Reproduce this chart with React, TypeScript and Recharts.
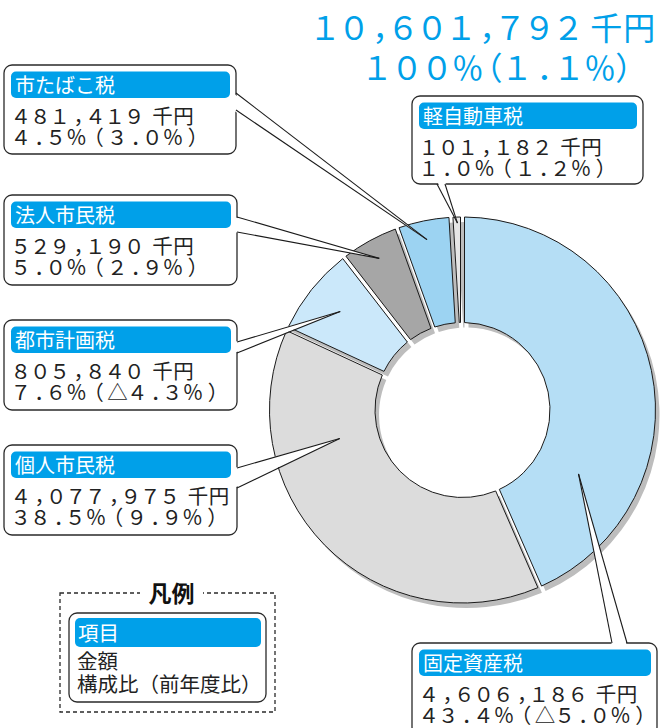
import React from 'react';
import { PieChart, Pie } from 'recharts';

// ---- data ----
const categories = ['固定資産税', '個人市民税', '都市計画税', '法人市民税', '市たばこ税', '軽自動車税'];
const amounts = [4606186, 4077975, 805840, 529190, 481419, 101182]; // 千円
const shares = [43.4, 38.5, 7.6, 5.0, 4.5, 1.0]; // %
const yoyChanges = [-5.0, 9.9, -4.3, 2.9, 3.0, 1.2]; // % (前年度比)
const totalAmount = 10601792;
const totalShare = 100;
const totalYoy = 1.1;
const legendTitle = '凡例';
const legendItems = ['項目', '金額', '構成比（前年度比）'];

// ---- styles / layout ----
const colors = ['#b5def5', '#dcdcdc', '#cbe8fa', '#a6a6a6', '#9cd3f2', '#e6e6e6'];
const SHADOW = '#bdbdbd';
const CYAN = '#00a0e9';
const FONT = '"Noto Sans CJK JP", "Noto Sans", sans-serif';
const GAP = 2;
const SHADOW_DX = 4;
const SHADOW_DY = 5;

type Side = 'top' | 'right' | 'bottom';
const calloutLayout: { x: number; y: number; w: number; h: number; b1: number[]; b2: number[]; side: Side; frac: number; r: number }[] = [
  { x: 412, y: 643, w: 245, h: 92, b1: [612, 643], b2: [627, 643], side: 'top', frac: 0.76, r: 132.5 },
  { x: 4, y: 445, w: 233, h: 90, b1: [237, 468], b2: [237, 488], side: 'right', frac: 0.726, r: 126 },
  { x: 4, y: 320, w: 233, h: 90, b1: [237, 342], b2: [237, 353], side: 'right', frac: 0.51, r: 157 },
  { x: 4, y: 195, w: 233, h: 90, b1: [237, 217], b2: [237, 232], side: 'right', frac: 0.5, r: 173 },
  { x: 4, y: 65, w: 232, h: 89, b1: [236, 93], b2: [236, 110], side: 'right', frac: 0.49, r: 174 },
  { x: 412, y: 96, w: 231, h: 88, b1: [437, 184], b2: [445, 184], side: 'bottom', frac: 0.55, r: 187 },
];

type Slots = { D: number; C: number; P: number; PCT: number; PAR: number; TRI: number; K: number; GAP: number };
const bodySlots: Slots = { D: 19.5, C: 16, P: 15.5, PCT: 22, PAR: 20, TRI: 20, K: 21, GAP: 8 };
const BODY_FS = 20.5;
const title1Slots: Slots = { D: 29, C: 20, P: 22, PCT: 31.5, PAR: 18.5, TRI: 30, K: 33, GAP: 7 };
const title2Slots: Slots = { D: 30, C: 20, P: 22, PCT: 31.5, PAR: 18.5, TRI: 30, K: 33, GAP: 7 };
const TITLE_FS = 32;

const data = categories.map((name, i) => ({ name, value: amounts[i] }));

const FW = (s: string) =>
  s.replace(/[0-9.,%()]/g, (c) => String.fromCharCode(c.charCodeAt(0) + 0xfee0));
const fmtAmount = (n: number) => FW(n.toLocaleString('en-US')) + '千円';
const fmtChange = (v: number) => (v < 0 ? '△' : '') + FW(Math.abs(v).toFixed(1)) + '％';
const fmtShare = (s: number, v: number) => FW(s.toFixed(1)) + '％（' + fmtChange(v) + '）';

// glyph start positions for full-width characters placed in per-class slots
function glyphStarts(str: string, x0: number, fs: number, s: Slots) {
  const out: number[] = [];
  let cur = x0;
  let seenK = false;
  for (const ch of Array.from(str)) {
    let w = s.K;
    let shift = 0;
    if (/[０-９]/.test(ch)) w = s.D;
    else if (ch === '，') { w = s.C; shift = 0.3; }
    else if (ch === '．') { w = s.P; shift = 0.3; }
    else if (ch === '％') w = s.PCT;
    else if (ch === '（') { w = s.PAR; shift = -0.2; }
    else if (ch === '）') { w = s.PAR; shift = 0.2; }
    else if (ch === '△') w = s.TRI;
    else {
      if (!seenK) { cur += s.GAP; seenK = true; }
      w = s.K;
    }
    out.push(cur + w / 2 + shift * fs - fs / 2);
    cur += w;
  }
  return out;
}

function SpacedText({ str, x, y, fs, slots, fill }: { str: string; x: number; y: number; fs: number; slots: Slots; fill: string }) {
  const g = glyphStarts(str, x, fs, slots);
  const dx = g.map((v, k) => (k === 0 ? 0 : v - (g[k - 1] + fs)).toFixed(2)).join(' ');
  return (
    <text x={g[0]} y={y} dx={dx} fill={fill} fontSize={fs} fontFamily={FONT} style={{ fontKerning: 'none' }}>
      {str}
    </text>
  );
}

const RAD = Math.PI / 180;
const pt = (cx: number, cy: number, r: number, a: number) => [cx + r * Math.cos(a * RAD), cy - r * Math.sin(a * RAD)];

function ringPath(cx: number, cy: number, r0: number, r1: number, a1: number, a2: number, gap: number) {
  const hi = Math.max(a1, a2);
  const lo = Math.min(a1, a2);
  const dO = Math.asin(gap / r1) / RAD;
  const dI = Math.asin(gap / r0) / RAD;
  let oS = hi - dO, oE = lo + dO, iS = hi - dI, iE = lo + dI;
  if (oS < oE) { const m = (hi + lo) / 2; oS = m + 0.05; oE = m - 0.05; }
  if (iS < iE) { const m = (hi + lo) / 2; iS = m + 0.05; iE = m - 0.05; }
  const lo1 = oS - oE > 180 ? 1 : 0;
  const lo0 = iS - iE > 180 ? 1 : 0;
  const p1 = pt(cx, cy, r1, oS), p2 = pt(cx, cy, r1, oE), p3 = pt(cx, cy, r0, iE), p4 = pt(cx, cy, r0, iS);
  return `M${p1[0]},${p1[1]} A${r1},${r1} 0 ${lo1} 1 ${p2[0]},${p2[1]} L${p3[0]},${p3[1]} A${r0},${r0} 0 ${lo0} 0 ${p4[0]},${p4[1]} Z`;
}

const renderShadow = (p: any) => (
  <path
    d={ringPath(p.cx + SHADOW_DX, p.cy + SHADOW_DY, p.innerRadius, p.outerRadius, p.startAngle, p.endAngle, GAP)}
    fill={SHADOW}
    stroke="none"
  />
);

const renderSlice = (p: any) => (
  <path
    d={ringPath(p.cx, p.cy, p.innerRadius, p.outerRadius, p.startAngle, p.endAngle, GAP)}
    fill={colors[p.index]}
    stroke="#1a1a1a"
    strokeWidth={1}
  />
);

const renderCallout = (p: any) => {
  const i = p.index;
  const L = calloutLayout[i];
  const a = p.startAngle + L.frac * (p.endAngle - p.startAngle);
  const tip = pt(p.cx, p.cy, L.r, a);
  const inv = L.side === 'top' ? [0, 3] : L.side === 'bottom' ? [0, -3] : [-3, 0];
  const b1i = [L.b1[0] + inv[0], L.b1[1] + inv[1]];
  const b2i = [L.b2[0] + inv[0], L.b2[1] + inv[1]];
  return (
    <g>
      <rect x={L.x} y={L.y} width={L.w} height={L.h} rx={8} ry={8} fill="#fff" stroke="#2a2a2a" strokeWidth={1.3} />
      <polygon points={`${b1i[0]},${b1i[1]} ${tip[0]},${tip[1]} ${b2i[0]},${b2i[1]}`} fill="#fff" stroke="none" />
      <line x1={L.b1[0]} y1={L.b1[1]} x2={tip[0]} y2={tip[1]} stroke="#1a1a1a" strokeWidth={1.1} />
      <line x1={L.b2[0]} y1={L.b2[1]} x2={tip[0]} y2={tip[1]} stroke="#1a1a1a" strokeWidth={1.1} />
      <rect x={L.x + 7} y={L.y + 6.5} width={L.w - 13} height={26.5} rx={5} ry={5} fill={CYAN} />
      <text x={L.x + 11} y={L.y + 28} fill="#fff" fontSize={20} fontFamily={FONT}>
        {categories[i]}
      </text>
      <SpacedText str={fmtAmount(amounts[i])} x={L.x + 7} y={L.y + 58.5} fs={BODY_FS} slots={bodySlots} fill="#222" />
      <SpacedText str={fmtShare(shares[i], yoyChanges[i])} x={L.x + 7} y={L.y + 80} fs={BODY_FS} slots={bodySlots} fill="#222" />
    </g>
  );
};

const CX = 462.5;
const CY = 410;
const R_IN = 87.5;
const R_OUT = 193;

export default function App() {
  const pieCommon = {
    data,
    dataKey: 'value',
    nameKey: 'name',
    cx: CX,
    cy: CY,
    innerRadius: R_IN,
    outerRadius: R_OUT,
    startAngle: 90,
    endAngle: -270,
    isAnimationActive: false,
    fill: 'none',
    stroke: 'none',
    labelLine: false,
  };
  return (
    <div style={{ position: 'absolute', left: 0, top: 0, width: 662, height: 728, background: '#fff' }}>
      <PieChart width={662} height={728} margin={{ top: 0, right: 0, bottom: 0, left: 0 }}>
        <Pie {...(pieCommon as any)} label={renderShadow} />
        <Pie {...(pieCommon as any)} label={renderSlice} />
        <Pie {...(pieCommon as any)} label={renderCallout} />
      </PieChart>
      <svg width={662} height={728} style={{ position: 'absolute', left: 0, top: 0, pointerEvents: 'none' }}>
        <SpacedText str={fmtAmount(totalAmount)} x={310.5} y={40} fs={TITLE_FS} slots={title1Slots} fill={CYAN} />
        <SpacedText
          str={FW(String(totalShare)) + '％（' + FW(totalYoy.toFixed(1)) + '％）'}
          x={362}
          y={80}
          fs={TITLE_FS}
          slots={title2Slots}
          fill={CYAN}
        />
        {/* legend */}
        <rect x={60} y={593} width={215} height={119} fill="none" stroke="#2a2a2a" strokeWidth={1.3} strokeDasharray="4 3" />
        <rect x={140} y={582} width={63} height={22} fill="#fff" />
        <text x={171.5} y={602} textAnchor="middle" fontSize={23} fontWeight={700} fontFamily={FONT} fill="#111">
          {legendTitle}
        </text>
        <rect x={69} y={613} width={197} height={89} rx={8} ry={8} fill="#fff" stroke="#2a2a2a" strokeWidth={1.3} />
        <rect x={75} y={618} width={186} height={29} rx={5} ry={5} fill={CYAN} />
        <text x={78} y={641} fill="#fff" fontSize={20.5} fontFamily={FONT}>
          {legendItems[0]}
        </text>
        <text x={77} y={669} fill="#222" fontSize={20.5} fontFamily={FONT}>
          {legendItems[1]}
        </text>
        <text x={77} y={692} fill="#222" fontSize={20.5} fontFamily={FONT}>
          {legendItems[2]}
        </text>
      </svg>
    </div>
  );
}
